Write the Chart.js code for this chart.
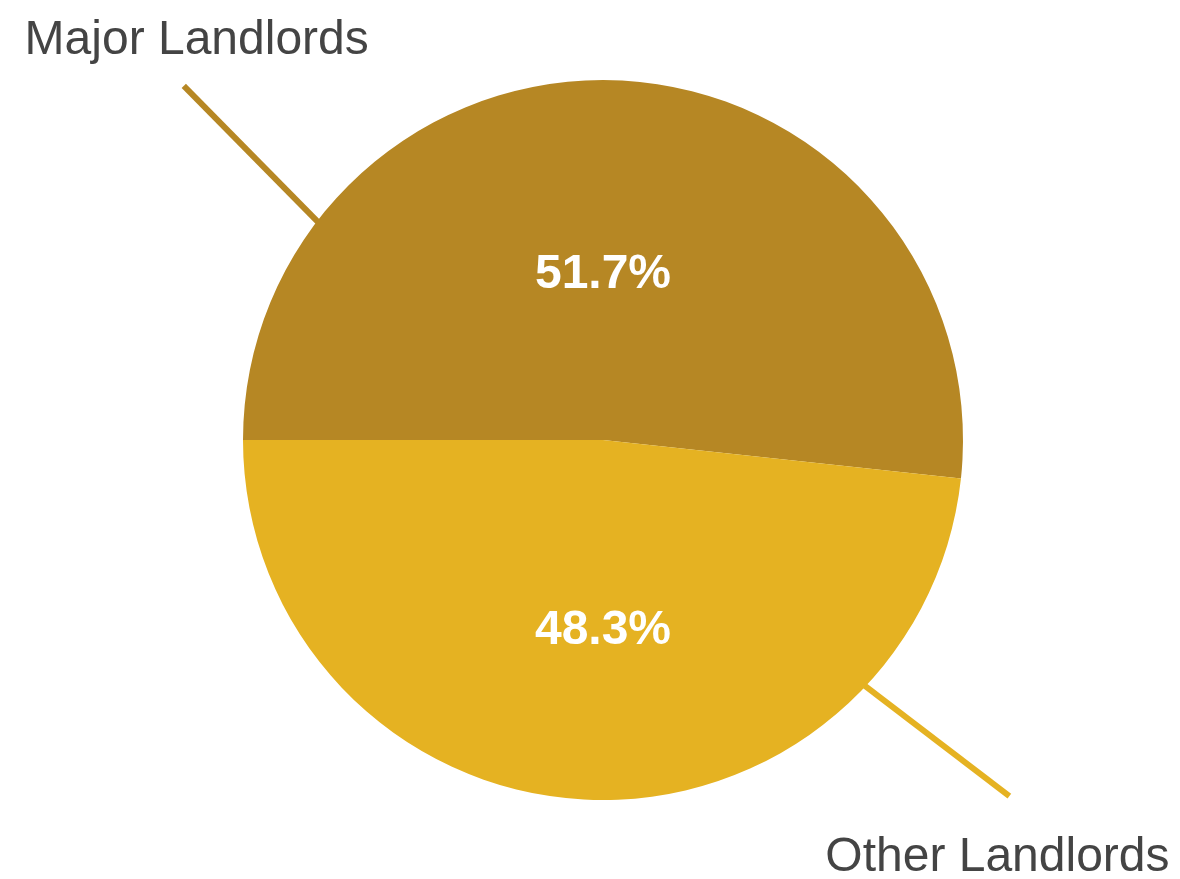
<!DOCTYPE html>
<html lang="en">
<head>
<meta charset="utf-8">
<title>Landlord share</title>
<script src="https://cdn.jsdelivr.net/npm/chart.js@4.4.1/dist/chart.umd.min.js"></script>
<style>
  html, body { margin: 0; padding: 0; background: #fff; }
  #wrap { width: 1180px; height: 879px; }
</style>
</head>
<body>
<div id="wrap"><canvas id="pie"></canvas></div>

<script>
// share of units by landlord type (percent)
const categories = ['Major Landlords', 'Other Landlords'];
const shares = [51.7, 48.3];
const sliceColors = ['#B68724', '#E5B222'];

// outside labels: where the leader line leaves the rim (canvas angle, degrees),
// which way it runs and how far, and where the name sits from the line's outer end
const outsideLabels = [
  { rim: 217.4, dir: 225.4, length: 192, dx: 185, dy: -32, align: 'right' },
  { rim: 43.2, dir: 37.4, length: 183, dx: -184, dy: 75, align: 'left' }
];
// inside percentage labels, as a fraction of the radius from the centre
const insideRadius = [0.46, 0.53];

const pieLabels = {
  id: 'pieLabels',
  afterDatasetsDraw(chart) {
    const ctx = chart.ctx;
    const arcs = chart.getDatasetMeta(0).data;
    ctx.save();

    // leader lines + category names
    arcs.forEach((arc, i) => {
      const o = outsideLabels[i];
      const a = o.rim * Math.PI / 180;
      const d = o.dir * Math.PI / 180;
      const r = arc.outerRadius - 2;
      const x0 = arc.x + Math.cos(a) * r;
      const y0 = arc.y + Math.sin(a) * r;
      const x1 = x0 + Math.cos(d) * o.length;
      const y1 = y0 + Math.sin(d) * o.length;
      ctx.strokeStyle = sliceColors[i];
      ctx.lineWidth = 6;
      ctx.beginPath();
      ctx.moveTo(x0, y0);
      ctx.lineTo(x1, y1);
      ctx.stroke();

      ctx.fillStyle = '#444444';
      ctx.font = '48px "Liberation Sans", Arial, sans-serif';
      ctx.textAlign = o.align;
      ctx.textBaseline = 'alphabetic';
      ctx.fillText(categories[i], x1 + o.dx, y1 + o.dy);
    });

    // percentages inside the slices, straight above / below the centre
    arcs.forEach((arc, i) => {
      const mid = (arc.startAngle + arc.endAngle) / 2;
      const y = arc.y + Math.sign(Math.sin(mid)) * arc.outerRadius * insideRadius[i];
      ctx.fillStyle = '#ffffff';
      ctx.font = 'bold 48px "Liberation Sans", Arial, sans-serif';
      ctx.textAlign = 'center';
      ctx.textBaseline = 'middle';
      ctx.fillText(shares[i].toFixed(1) + '%', arc.x, y);
    });

    ctx.restore();
  }
};

new Chart(document.getElementById('pie'), {
  type: 'pie',
  data: {
    labels: categories,
    datasets: [{
      data: shares,
      backgroundColor: sliceColors,
      borderWidth: 0
    }]
  },
  options: {
    responsive: true,
    maintainAspectRatio: false,
    animation: false,
    rotation: -90,
    layout: { padding: { left: 243, right: 217, top: 80, bottom: 79 } },
    plugins: {
      legend: { display: false },
      tooltip: { enabled: false }
    }
  },
  plugins: [pieLabels]
});
</script>
</body>
</html>
